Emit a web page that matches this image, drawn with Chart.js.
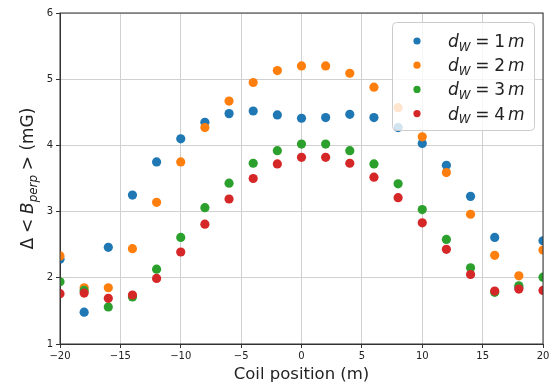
<!DOCTYPE html>
<html>
<head>
<meta charset="utf-8">
<script src="https://cdn.jsdelivr.net/npm/chart.js@4/dist/chart.umd.min.js"></script>
<style>
  html, body { margin: 0; padding: 0; background: #fff; }
  #plot { display: block; }
</style>
</head>
<body>
<canvas id="plot" width="553" height="387"></canvas>
<script>
// Coil position (m)
const positions = [-20, -18, -16, -14, -12, -10, -8, -6, -4, -2, 0, 2, 4, 6, 8, 10, 12, 14, 16, 18, 20];

// Delta <B_perp> (mG) for each wire distance
const dw1 = [2.28, 1.48, 2.46, 3.25, 3.75, 4.10, 4.35, 4.48, 4.52, 4.46, 4.41, 4.42, 4.47, 4.42, 4.27, 4.03, 3.70, 3.23, 2.61, 1.85, 2.56];
const dw2 = [2.33, 1.85, 1.85, 2.44, 3.14, 3.75, 4.27, 4.67, 4.95, 5.13, 5.20, 5.20, 5.09, 4.88, 4.57, 4.13, 3.59, 2.96, 2.34, 2.03, 2.42];
const dw3 = [1.94, 1.81, 1.56, 1.71, 2.13, 2.61, 3.06, 3.43, 3.73, 3.92, 4.02, 4.02, 3.92, 3.72, 3.42, 3.03, 2.58, 2.15, 1.78, 1.88, 2.01];
const dw4 = [1.76, 1.77, 1.69, 1.74, 1.99, 2.39, 2.81, 3.19, 3.50, 3.72, 3.82, 3.82, 3.73, 3.52, 3.21, 2.83, 2.43, 2.05, 1.80, 1.83, 1.81];

const distances = ['1', '2', '3', '4'];
const colors = ['#1f77b4', '#ff7f0e', '#2ca02c', '#d62728'];
const xTicks = [-20, -15, -10, -5, 0, 5, 10, 15, 20];
const yTicks = [1, 2, 3, 4, 5, 6];

const FONT = '"DejaVu Sans", sans-serif';
const INK = '#222';

function toPoints(ys) {
    return positions.map((x, i) => ({ x: x, y: ys[i] }));
}

// draw a run of mathtext-like pieces, left aligned at baseline y
function mathWidth(ctx, parts, size) {
    let w = 0;
    parts.forEach(p => {
        if (p.gap) { w += p.gap * size; return; }
        const s = p.sub ? size * 0.7 : size;
        ctx.font = `${p.it ? 'italic ' : ''}${s}px ${FONT}`;
        w += ctx.measureText(p.t).width;
    });
    return w;
}

function drawMath(ctx, parts, x, y, size) {
    let cx = x;
    parts.forEach(p => {
        if (p.gap) { cx += p.gap * size; return; }
        const s = p.sub ? size * 0.7 : size;
        ctx.font = `${p.it ? 'italic ' : ''}${s}px ${FONT}`;
        ctx.fillText(p.t, cx, p.sub ? y + size * 0.22 : y);
        cx += ctx.measureText(p.t).width;
    });
}

const yTitle = [
    { t: '\u0394' }, { gap: 0.28 }, { t: '<' }, { gap: 0.28 },
    { t: 'B', it: true }, { t: 'perp', it: true, sub: true },
    { gap: 0.28 }, { t: '>' }, { t: ' (mG)' }
];

function legendLabel(d) {
    return [
        { t: 'd', it: true }, { t: 'W', it: true, sub: true },
        { gap: 0.28 }, { t: '=' }, { gap: 0.28 },
        { t: d }, { gap: 0.17 }, { t: 'm', it: true }
    ];
}

const decor = {
    id: 'decor',
    afterDraw(chart) {
        const { ctx, chartArea: a } = chart;
        ctx.save();

        // axes frame
        ctx.strokeStyle = '#333';
        ctx.lineWidth = 1;
        ctx.strokeRect(a.left, a.top, a.right - a.left, a.bottom - a.top);

        // y axis title, rotated
        ctx.fillStyle = INK;
        ctx.textBaseline = 'alphabetic';
        ctx.textAlign = 'left';
        const ts = 17;
        const tw = mathWidth(ctx, yTitle, ts);
        ctx.translate(33, (a.top + a.bottom) / 2);
        ctx.rotate(-Math.PI / 2);
        drawMath(ctx, yTitle, -tw / 2, 0, ts);
        ctx.setTransform(1, 0, 0, 1, 0, 0);

        // legend box
        const bw = 142, bh = 108;
        const bx = a.right - 9 - bw, by = a.top + 9;
        ctx.beginPath();
        ctx.roundRect(bx + 0.5, by + 0.5, bw, bh, 4);
        ctx.fillStyle = 'rgba(255,255,255,0.8)';
        ctx.fill();
        ctx.strokeStyle = '#cccccc';
        ctx.stroke();

        chart.data.datasets.forEach((ds, i) => {
            const my = by + 19 + i * 24.2;
            ctx.beginPath();
            ctx.arc(bx + 25, my, 3.6, 0, Math.PI * 2);
            ctx.fillStyle = ds.backgroundColor;
            ctx.fill();
            ctx.fillStyle = INK;
            drawMath(ctx, legendLabel(distances[i]), bx + 56, my + 6, 17);
        });

        ctx.restore();
    }
};

const series = [dw1, dw2, dw3, dw4];

new Chart(document.getElementById('plot'), {
    type: 'scatter',
    data: {
        datasets: series.map((ys, i) => ({
            label: 'dW = ' + distances[i] + ' m',
            data: toPoints(ys),
            backgroundColor: colors[i],
            borderColor: colors[i],
            borderWidth: 0,
            pointRadius: 4.6,
            pointHoverRadius: 4.6,
            clip: 0,
            order: 3 - i
        }))
    },
    options: {
        responsive: false,
        animation: false,
        devicePixelRatio: 1,
        layout: { padding: { top: 13, right: 10, left: 0, bottom: 0 } },
        plugins: {
            legend: { display: false },
            tooltip: { enabled: false }
        },
        scales: {
            x: {
                type: 'linear',
                min: -20, max: 20,
                afterFit: s => { s.height = 43; },
                afterBuildTicks: s => { s.ticks = xTicks.map(v => ({ value: v })); },
                ticks: {
                    color: INK,
                    font: { family: FONT, size: 10 },
                    padding: 2,
                    maxRotation: 0,
                    autoSkip: false,
                    callback: v => v < 0 ? '\u2212' + Math.abs(v) : String(v)
                },
                grid: { color: '#d0d0d0', lineWidth: 1, tickColor: '#333', tickLength: 4 },
                border: { color: '#333', width: 1 },
                title: {
                    display: true,
                    text: 'Coil position (m)',
                    color: INK,
                    font: { family: FONT, size: 16.5 },
                    padding: { top: 0, bottom: 2 }
                }
            },
            y: {
                type: 'linear',
                min: 1, max: 6,
                afterFit: s => { s.width = 60; },
                afterBuildTicks: s => { s.ticks = yTicks.map(v => ({ value: v })); },
                ticks: {
                    color: INK,
                    font: { family: FONT, size: 10 },
                    padding: 3
                },
                grid: { color: '#d0d0d0', lineWidth: 1, tickColor: '#333', tickLength: 4 },
                border: { color: '#333', width: 1 }
            }
        }
    },
    plugins: [decor]
});
</script>
</body>
</html>
